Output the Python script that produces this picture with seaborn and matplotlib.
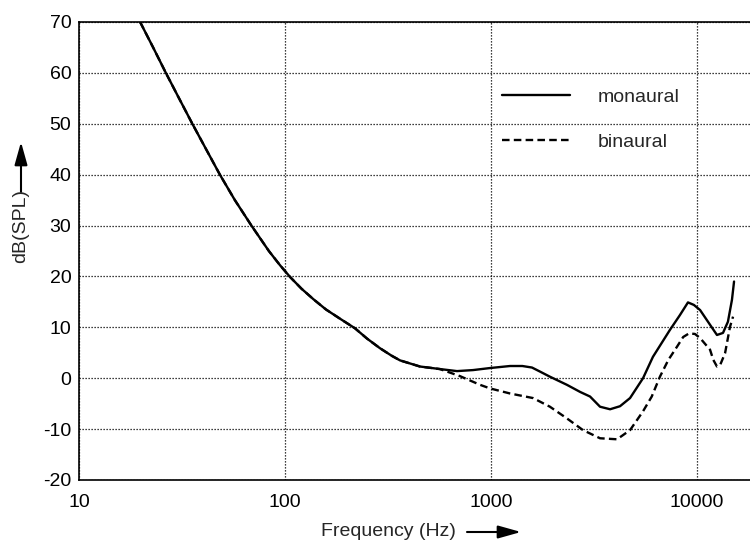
import numpy as np
import pandas as pd
import matplotlib
matplotlib.use("Agg")
import matplotlib.pyplot as plt
import seaborn as sns

# Hearing threshold curves (dB SPL vs frequency)
freq_monaural = [19.8, 22.9, 26.4, 30.6, 35.5, 41.4, 48.3, 57.1, 68.7, 83.5,
                 94.6, 105.8, 120.2, 137.6, 158.2, 184.9, 218.8, 250, 289,
                 330, 362, 452, 565, 684, 818, 989, 1237, 1420, 1581, 1730,
                 1932, 2337, 2710, 3026, 3383, 3785, 4230, 4731, 5470, 6110,
                 7390, 8260, 9040, 9660, 10350, 11570, 12500, 13370, 14130,
                 14780, 15130]
db_monaural = [70, 65, 60, 55, 50, 45, 40, 35, 30, 25,
               22.2, 19.9, 17.6, 15.5, 13.5, 11.7, 9.8, 7.8, 5.9,
               4.4, 3.5, 2.3, 1.8, 1.4, 1.6, 2.0, 2.4, 2.4, 2.1, 1.3,
               0.3, -1.3, -2.7, -3.6, -5.6, -6.1, -5.5, -3.9, 0.0, 4.2,
               9.5, 12.4, 14.9, 14.4, 13.4, 10.5, 8.5, 8.9, 11.1,
               15.4, 19.0]

freq_binaural = [19.8, 22.9, 26.4, 30.6, 35.5, 41.4, 48.3, 57.1, 68.7, 83.5,
                 94.6, 105.8, 120.2, 137.6, 158.2, 184.9, 218.8, 250, 289,
                 330, 362, 452, 565, 708, 885, 989, 1237, 1600, 1932, 2337,
                 2797, 3383, 4093, 4731, 5470, 6030, 6607, 7260, 7999, 8570,
                 9140, 9770, 10350, 11570, 12000, 12500, 12950, 13680, 14460,
                 14960]
db_binaural = [70, 65, 60, 55, 50, 45, 40, 35, 30, 25,
               22.2, 19.9, 17.6, 15.5, 13.5, 11.7, 9.8, 7.8, 5.9,
               4.4, 3.5, 2.3, 1.8, 0.4, -1.3, -2.0, -3.0, -3.9, -5.6, -7.9,
               -10.2, -11.8, -12.0, -10.2, -6.5, -3.6, 0.3, 3.6, 6.2, 8.1,
               8.8, 8.7, 7.9, 5.6, 3.6, 2.3, 2.6, 4.9, 10.1,
               12.1]

series_names = ["monaural", "binaural"]
y_ticks = [-20, -10, 0, 10, 20, 30, 40, 50, 60, 70]
x_ticks = [10, 100, 1000, 10000]
x_tick_labels = ["10", "100", "1000", "10000"]

df = pd.concat([
    pd.DataFrame({"freq": freq_monaural, "db": db_monaural, "curve": series_names[0]}),
    pd.DataFrame({"freq": freq_binaural, "db": db_binaural, "curve": series_names[1]}),
], ignore_index=True)

sns.set_style("white")
plt.rcParams["font.family"] = ["Liberation Sans", "DejaVu Sans"]
plt.rcParams["font.size"] = 14
plt.rcParams["axes.unicode_minus"] = False

W, H = 750, 541
fig = plt.figure(figsize=(W / 100, H / 100), dpi=100)
ax = fig.add_axes([79 / W, 1 - 480 / H, 1 - 79 / W, 458 / H])

sns.lineplot(data=df, x="freq", y="db", hue="curve", style="curve",
             palette={"monaural": "black", "binaural": "black"},
             dashes={"monaural": "", "binaural": (3.2, 1.8)},
             sort=False, estimator=None, linewidth=1.7, ax=ax, legend=True)

ax.set_xscale("log")
ax.set_xlim(10, 10 ** (1 + 671 / 206))
ax.set_ylim(-20, 70)
ax.set_xticks(x_ticks)
ax.set_xticklabels(x_tick_labels)
ax.set_yticks(y_ticks)
ax.minorticks_off()
ax.xaxis.set_minor_locator(matplotlib.ticker.NullLocator())

ax.grid(True, which="major", color="black", linestyle=(0, (1, 1.4)), linewidth=0.9)
for side in ["left", "top", "bottom"]:
    ax.spines[side].set_color("black")
    ax.spines[side].set_linewidth(1.2)
ax.spines["right"].set_visible(False)
ax.tick_params(axis="both", direction="in", length=8, width=1.5, color="black",
               labelsize=14, labelcolor="black")
ax.tick_params(axis="y", pad=5.5)
ax.tick_params(axis="x", pad=10)
ax.set_xlabel("")
ax.set_ylabel("")

# Legend with long line samples
handles, labels = ax.get_legend_handles_labels()
leg = ax.legend(handles, labels, loc="upper left", frameon=False,
                bbox_to_anchor=(502 / W, 1 - 88 / H), bbox_transform=fig.transFigure,
                handlelength=3.5, handletextpad=1.4, labelspacing=1.43,
                borderpad=0, borderaxespad=0, fontsize=14)

# Axis titles with arrows
fig.text(388 / W, 1 - 532 / H, "Frequency (Hz)", ha="center", va="center", fontsize=14)
ax.annotate("", xy=(521, H - 532), xytext=(467, H - 532),
            xycoords="figure pixels", textcoords="figure pixels",
            arrowprops=dict(arrowstyle="-|>,head_length=1.0,head_width=0.28",
                            color="black", lw=1.5, mutation_scale=14,
                            shrinkA=0, shrinkB=0))
fig.text(21 / W, 1 - 226 / H, "dB(SPL)", ha="center", va="center",
         rotation=90, fontsize=14)
ax.annotate("", xy=(21, H - 142), xytext=(21, H - 192),
            xycoords="figure pixels", textcoords="figure pixels",
            arrowprops=dict(arrowstyle="-|>,head_length=1.0,head_width=0.28",
                            color="black", lw=1.5, mutation_scale=14,
                            shrinkA=0, shrinkB=0))

fig.savefig("out.png", dpi=100)
